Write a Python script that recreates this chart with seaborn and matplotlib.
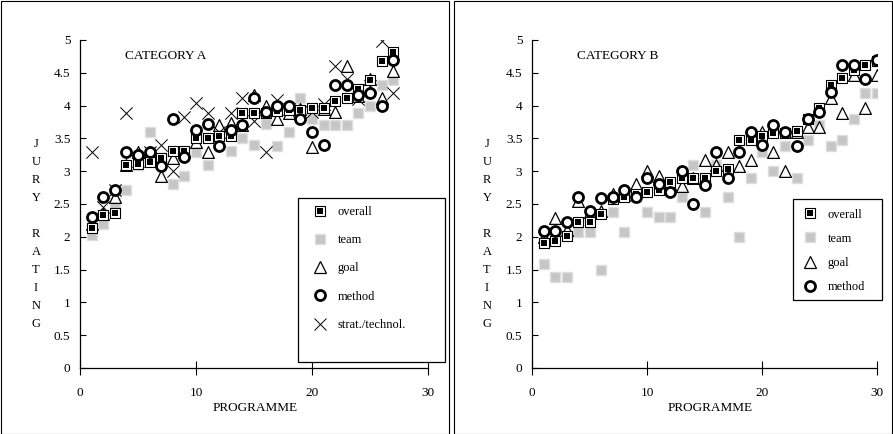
import numpy as np
import pandas as pd
import matplotlib
matplotlib.use("Agg")
import matplotlib.pyplot as plt
import seaborn as sns
from matplotlib.patches import Rectangle
from matplotlib.lines import Line2D
from matplotlib.ticker import FormatStrFormatter

# ---------------- data ----------------
programme_a = list(range(1, 28))
overall_a = [2.14, 2.33, 2.37, 3.10, 3.11, 3.14, 3.20, 3.31, 3.31, 3.50, 3.50, 3.53, 3.53, 3.89,
             3.89, 3.89, 3.92, 3.94, 3.93, 3.97, 3.97, 4.07, 4.12, 4.26, 4.39, 4.68, 4.82]
team_a = [2.03, 2.19, 2.51, 2.71, 3.10, 3.60, 3.20, 2.80, 2.92, 3.30, 3.09, 3.50, 3.31, 3.50,
          3.40, 3.72, 3.39, 3.60, 4.11, 3.80, 3.71, 3.71, 3.71, 3.89, 4.00, 4.31, 4.39]
goal_a = [2.20, 2.35, 2.60, 3.10, 3.30, 3.30, 2.92, 3.20, 3.30, 3.45, 3.30, 3.70, 3.73, 3.70,
          4.16, 4.00, 3.80, 3.88, 3.95, 3.37, 3.95, 3.91, 4.60, 4.15, 4.40, 4.12, 4.52]
method_a = [2.30, 2.61, 2.71, 3.30, 3.25, 3.30, 3.08, 3.80, 3.21, 3.63, 3.72, 3.39, 3.63, 3.70,
            4.11, 3.90, 4.00, 4.00, 3.80, 3.60, 3.40, 4.31, 4.31, 4.16, 4.19, 4.00, 4.70]
strat_a = [3.30, 2.45, 2.72, 3.88, 3.15, 3.30, 3.40, 3.00, 3.83, 4.04, 3.88, 3.60, 3.88, 4.11,
           3.76, 3.30, 4.08, 3.95, 3.90, 3.90, 4.03, 4.60, 4.41, 4.10, 4.30, 4.98, 4.19]

programme_b = list(range(1, 31))
overall_b = [1.90, 1.93, 2.01, 2.22, 2.22, 2.34, 2.57, 2.61, 2.66, 2.69, 2.72, 2.84, 2.90, 2.90,
             2.90, 3.00, 3.04, 3.48, 3.48, 3.53, 3.58, 3.58, 3.62, 3.79, 3.96, 4.32, 4.42, 4.55,
             4.62, 4.68]
team_b = [1.58, 1.38, 1.38, 2.08, 2.08, 1.50, 2.38, 2.08, 2.60, 2.38, 2.30, 2.30, 2.60, 3.09,
          2.38, 3.09, 2.60, 2.00, 2.89, 3.30, 3.00, 3.38, 2.89, 3.48, 3.70, 3.38, 3.48, 3.80,
          4.19, 4.19]
goal_b = [2.00, 2.29, 2.10, 2.54, 2.38, 2.40, 2.66, 2.64, 2.81, 3.00, 2.92, 2.80, 2.77, 2.90,
          3.17, 3.10, 3.30, 3.08, 3.17, 3.60, 3.30, 3.00, 3.60, 3.68, 3.68, 4.12, 3.88, 4.47,
          3.96, 4.47]
method_b = [2.09, 2.09, 2.22, 2.60, 2.40, 2.59, 2.60, 2.71, 2.60, 2.89, 2.81, 2.68, 3.00, 2.50,
            2.79, 3.30, 2.89, 3.30, 3.60, 3.40, 3.70, 3.60, 3.38, 3.80, 3.91, 4.20, 4.62, 4.62,
            4.40, 4.70]

y_ticks = [0, 0.5, 1, 1.5, 2, 2.5, 3, 3.5, 4, 4.5, 5]
x_ticks = [0, 10, 20, 30]
titles = ["CATEGORY A", "CATEGORY B"]
ylabel_text = "J\nU\nR\nY\n\nR\nA\nT\nI\nN\nG"
xlabel_text = "PROGRAMME"

# ---------------- style ----------------
sns.set_theme(style="white")
plt.rcParams["font.family"] = ["Liberation Serif", "DejaVu Serif"]

W, H = 893, 434
fig = plt.figure(figsize=(W / 100, H / 100), dpi=100)
fig.patch.set_facecolor("white")

def px_axes(x0, x1, ytop, ybot):
    return [x0 / W, (H - ybot) / H, (x1 - x0) / W, (ybot - ytop) / H]

axA = fig.add_axes(px_axes(80, 428, 40, 368))
axB = fig.add_axes(px_axes(532, 877, 40, 368))

FS = 9.5

sq_out = dict(marker="s", s=48, facecolor="white", edgecolor="black", linewidth=0.8)
sq_in = dict(marker="s", s=19, color="black", linewidth=0)
team_st = dict(marker="s", s=58, facecolor="#c6c6c6", edgecolor="#dedede", linewidth=1.0)
goal_st = dict(marker="^", s=72, facecolor="white", edgecolor="black", linewidth=0.9)
meth_st = dict(marker="o", s=52, facecolor="white", edgecolor="black", linewidth=2.0)
strat_st = dict(marker="x", s=78, color="black", linewidth=0.7)


def draw(ax, x, overall, team, goal, method, strat=None):
    sns.scatterplot(x=x, y=team, ax=ax, zorder=2, **team_st)
    sns.scatterplot(x=x, y=goal, ax=ax, zorder=3, **goal_st)
    if strat is not None:
        sns.scatterplot(x=x, y=strat, ax=ax, zorder=4, **strat_st)
    sns.scatterplot(x=x, y=overall, ax=ax, zorder=5, **sq_out)
    sns.scatterplot(x=x, y=overall, ax=ax, zorder=6, **sq_in)
    sns.scatterplot(x=x, y=method, ax=ax, zorder=7, **meth_st)


draw(axA, programme_a, overall_a, team_a, goal_a, method_a, strat_a)
draw(axB, programme_b, overall_b, team_b, goal_b, method_b)

for ax, title, xl_x in [(axA, titles[0], 0.503), (axB, titles[1], 0.516)]:
    ax.set_xlim(0, 30)
    ax.set_ylim(0, 5)
    ax.set_xticks(x_ticks)
    ax.set_yticks(y_ticks)
    ax.yaxis.set_major_formatter(FormatStrFormatter("%g"))
    for s in ["top", "right"]:
        ax.spines[s].set_visible(False)
    for s in ["left", "bottom"]:
        ax.spines[s].set_color("black")
        ax.spines[s].set_linewidth(0.9)
    ax.tick_params(axis="y", direction="in", length=4, width=0.8, pad=7,
                   labelsize=FS, colors="black", left=True)
    ax.tick_params(axis="x", direction="inout", length=10, width=0.8, pad=9,
                   labelsize=FS, colors="black", bottom=True)
    ax.set_xlabel(xlabel_text, fontsize=FS, color="black")
    ax.xaxis.set_label_coords(xl_x, -0.105)
    ax.set_ylabel(ylabel_text, rotation=0, fontsize=9, color="black",
                  linespacing=1.66, va="center", ha="center")
    ax.text(0.13, 0.95, title, transform=ax.transAxes, fontsize=FS,
            ha="left", va="center", color="black")
    ax.set_facecolor("white")

axA.yaxis.set_label_coords((36 - 80) / 348, (368 - 234) / 328)
axB.yaxis.set_label_coords((487 - 532) / 345, (368 - 234) / 328)


def h_overall():
    return (Line2D([], [], linestyle="none", marker="s", markersize=6.8,
                   markerfacecolor="white", markeredgecolor="black", markeredgewidth=0.8),
            Line2D([], [], linestyle="none", marker="s", markersize=4.2,
                   markerfacecolor="black", markeredgewidth=0))


def h(st, ms):
    if st["marker"] == "x":
        return Line2D([], [], linestyle="none", marker="x", markersize=ms,
                      color="black", markeredgewidth=st["linewidth"])
    return Line2D([], [], linestyle="none", marker=st["marker"], markersize=ms,
                  markerfacecolor=st.get("facecolor", st.get("color")),
                  markeredgecolor=st.get("edgecolor", st.get("color")),
                  markeredgewidth=st["linewidth"])


def add_legend(ax, x0, x1, ytop, ybot, xl, x_end, labels, handles, spacing,
               bpad, hlen, tpad, first_off):
    bx0 = (x0 - xl) / (x_end - xl)
    bx1 = (x1 - xl) / (x_end - xl)
    by0 = (368 - ybot) / 328
    by1 = (368 - ytop) / 328
    ax.add_patch(Rectangle((bx0, by0), bx1 - bx0, by1 - by0, transform=ax.transAxes,
                           fill=True, facecolor="white", edgecolor="black",
                           linewidth=0.9, clip_on=False, zorder=10))
    leg = ax.legend(handles, labels, loc="upper left",
                    bbox_to_anchor=(bx0, (368 - ytop - first_off) / 328), frameon=False,
                    fontsize=9, handlelength=hlen, handletextpad=tpad, borderpad=bpad,
                    labelspacing=spacing, borderaxespad=0)
    leg.set_zorder(11)
    for t in leg.get_texts():
        t.set_color("black")
    return leg


labels_a = ["overall", "team", "goal", "method", "strat./technol."]
handles_a = [h_overall(), h(team_st, 7.2), h(goal_st, 8.5), h(meth_st, 7.2), h(strat_st, 8.5)]
add_legend(axA, 298, 445, 198, 362, 80, 428, labels_a, handles_a, 1.30,
           0.8, 1.9, 0.5, -2)

labels_b = ["overall", "team", "goal", "method"]
handles_b = [h_overall(), h(team_st, 7.2), h(goal_st, 8.5), h(meth_st, 7.2)]
add_legend(axB, 793, 882, 199, 300, 532, 877, labels_b, handles_b, 0.98,
           0.6, 1.55, 0.65, 2)

# outer panel frames
fig.patches.append(Rectangle((0.5 / W, 0.5 / H), 448 / W, 433 / H, transform=fig.transFigure,
                             fill=False, edgecolor="black", linewidth=0.8))
fig.patches.append(Rectangle((454 / W, 0.5 / H), 438 / W, 433 / H, transform=fig.transFigure,
                             fill=False, edgecolor="black", linewidth=0.8))

fig.savefig("out.png", dpi=100, facecolor="white")
